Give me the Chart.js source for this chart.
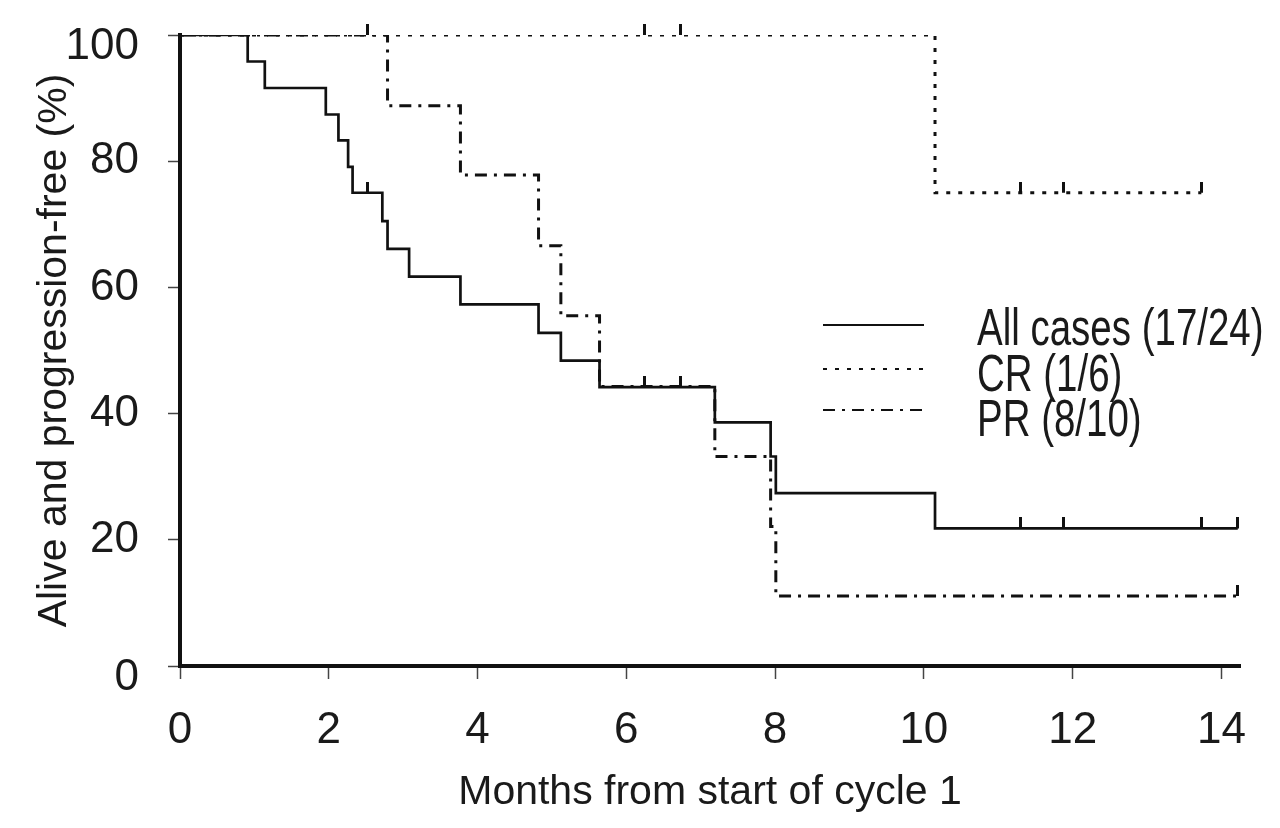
<!DOCTYPE html>
<html>
<head>
<meta charset="utf-8">
<script src="https://cdn.jsdelivr.net/npm/chart.js@4.4.1/dist/chart.umd.min.js"></script>
<style>
  html, body { margin: 0; padding: 0; background: #fff; }
</style>
</head>
<body>
<canvas id="kmChart" width="1280" height="828"></canvas>
<script>
// Kaplan-Meier steps: time (months) of each drop and survival (%) after it
var allTimes = [0, 0.91, 1.14, 1.96, 2.13, 2.26, 2.32, 2.72, 2.79, 3.08, 3.77, 4.82, 5.12, 5.64, 7.19, 7.94, 8.01, 10.15, 14.22];
var allSurv  = [100, 95.8, 91.6, 87.4, 83.3, 79.1, 75.0, 70.5, 66.1, 61.7, 57.3, 52.8, 48.4, 44.2, 38.6, 33.2, 27.4, 21.8, 21.8];
var crTimes  = [0, 10.15, 13.73];
var crSurv   = [100, 75.0, 75.0];
var prTimes  = [0, 2.79, 3.77, 4.82, 5.12, 5.64, 7.19, 7.94, 8.01, 14.22];
var prSurv   = [100, 88.8, 77.8, 66.6, 55.5, 44.3, 33.2, 22.1, 11.1, 11.1];

// censored observations
var allCensTimes = [2.52, 6.24, 6.73, 11.30, 11.88, 13.73, 14.22];
var allCensSurv  = [75.0, 44.2, 44.2, 21.8, 21.8, 21.8, 21.8];
var crCensTimes  = [6.24, 6.73, 11.30, 11.88, 13.73];
var crCensSurv   = [100, 100, 75.0, 75.0, 75.0];
var prCensTimes  = [2.52, 14.22];
var prCensSurv   = [100, 11.1];

var seriesLabels = ['All cases (17/24)', 'CR (1/6)', 'PR (8/10)'];
var xTicks = [0, 2, 4, 6, 8, 10, 12, 14];
var yTicks = [0, 20, 40, 60, 80, 100];

var FONT = "'Liberation Sans', Arial, sans-serif";
var INK = '#1a1a1a';

function toPoints(times, values) {
    return times.map(function(t, i) { return { x: t, y: values[i] }; });
}

// small upward tick used for censor marks
var censorMark = document.createElement('canvas');
censorMark.width = 3;
censorMark.height = 22;
var cm = censorMark.getContext('2d');
cm.fillStyle = '#111';
cm.fillRect(0, 0, 3, 11);

function censorSet(times, values) {
    return {
        type: 'scatter',
        data: toPoints(times, values),
        showLine: false,
        pointStyle: censorMark,
        pointRadius: 6,
        clip: false
    };
}

// legend drawn inside the plot, text squeezed to look like a condensed face
var legendPlugin = {
    id: 'kmLegend',
    afterDraw: function(chart) {
        var ctx = chart.ctx;
        var lineY = [325, 369, 410];
        var textY = [345, 391, 436];
        ctx.save();
        for (var i = 0; i < 3; i++) {
            var ds = chart.data.datasets[i];
            ctx.beginPath();
            ctx.strokeStyle = ds.borderColor;
            ctx.lineWidth = 2;
            ctx.setLineDash(ds.borderDash || []);
            ctx.moveTo(823, lineY[i]);
            ctx.lineTo(924, lineY[i]);
            ctx.stroke();
            ctx.setLineDash([]);

            ctx.save();
            ctx.translate(977, textY[i]);
            ctx.scale(0.74, 1);
            ctx.fillStyle = INK;
            ctx.font = '52px ' + FONT;
            ctx.textBaseline = 'alphabetic';
            ctx.fillText(ds.label, 0, 0);
            ctx.restore();
        }
        ctx.restore();
    }
};

var ctx = document.getElementById('kmChart').getContext('2d');
var kmChart = new Chart(ctx, {
    type: 'line',
    data: {
        datasets: [{
            label: seriesLabels[0],
            data: toPoints(allTimes, allSurv),
            borderColor: '#111',
            borderWidth: 2.7,
            stepped: true,
            pointRadius: 0
        }, {
            label: seriesLabels[1],
            data: toPoints(crTimes, crSurv),
            borderColor: '#111',
            borderWidth: 3,
            borderDash: [4, 8],
            stepped: true,
            pointRadius: 0
        }, {
            label: seriesLabels[2],
            data: toPoints(prTimes, prSurv),
            borderColor: '#111',
            borderWidth: 3,
            borderDash: [12, 7, 3, 7],
            stepped: true,
            pointRadius: 0
        },
        censorSet(allCensTimes, allCensSurv),
        censorSet(crCensTimes, crCensSurv),
        censorSet(prCensTimes, prCensSurv)]
    },
    options: {
        responsive: false,
        animation: false,
        events: [],
        layout: {
            padding: { top: 35, right: 40, left: 0, bottom: 0 }
        },
        scales: {
            x: {
                type: 'linear',
                min: 0,
                max: 14.25,
                afterFit: function(scale) { scale.height = 162; },
                afterBuildTicks: function(scale) {
                    scale.ticks = xTicks.map(function(v) { return { value: v }; });
                },
                border: { display: true, color: '#111', width: 4 },
                grid: { drawOnChartArea: false, tickLength: 13, tickColor: '#444', tickWidth: 1.5 },
                ticks: {
                    color: INK,
                    padding: 25,
                    font: { family: FONT, size: 44 },
                    maxRotation: 0
                },
                title: {
                    display: true,
                    text: 'Months from start of cycle 1',
                    color: INK,
                    font: { family: FONT, size: 41 },
                    padding: { top: 0, bottom: 11 }
                }
            },
            y: {
                min: 0,
                max: 100,
                afterFit: function(scale) {
                    scale.width = 180;
                    // big label padding shouldn't push the plot down
                    scale.paddingTop = 0;
                    scale.paddingBottom = 0;
                },
                afterBuildTicks: function(scale) {
                    scale.ticks = yTicks.map(function(v) { return { value: v }; });
                },
                border: { display: true, color: '#111', width: 4 },
                grid: { drawOnChartArea: false, tickLength: 12, tickColor: '#444', tickWidth: 1.5 },
                ticks: {
                    color: INK,
                    padding: 29,
                    font: { family: FONT, size: 44, lineHeight: 0.55 },
                    // end labels sit a bit below their tick, as in the original
                    callback: function(value) {
                        return (value === 0 || value === 100) ? ['', String(value)] : String(value);
                    }
                },
                title: {
                    display: true,
                    text: 'Alive and progression-free (%)',
                    color: INK,
                    font: { family: FONT, size: 41 },
                    padding: { top: 30, bottom: 0 }
                }
            }
        },
        plugins: {
            legend: { display: false },
            tooltip: { enabled: false }
        }
    },
    plugins: [legendPlugin]
});
</script>
</body>
</html>
